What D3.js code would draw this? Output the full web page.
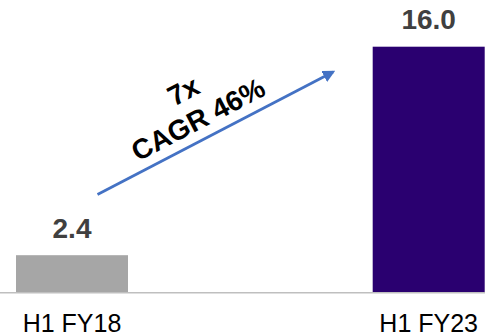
<!DOCTYPE html>
<html>
<head>
<meta charset="utf-8">
<script src="https://cdn.jsdelivr.net/npm/d3@7"></script>
<style>
  html, body { margin: 0; padding: 0; background: #fff; }
  svg { display: block; font-family: Arial, "Liberation Sans", sans-serif; }
</style>
</head>
<body>
<svg id="chart" width="485" height="335"></svg>
<script>
// Periods and revenue values
const periods = ["H1 FY18", "H1 FY23"];
const values = [2.4, 16.0];
const valueLabels = ["2.4", "16.0"];
const barColors = ["#a6a6a6", "#2a0070"];
const growthLines = ["7x", "CAGR 46%"];

const W = 485, H = 335;
const svg = d3.select("#chart");

const x = d3.scaleBand()
  .domain(periods)
  .range([16, 484.7])
  .paddingInner(0.686)
  .paddingOuter(0);

const y = d3.scaleLinear()
  .domain([0, 16])
  .range([292, 46.7]);

// Bars
svg.selectAll("rect.bar")
  .data(periods)
  .join("rect")
  .attr("class", "bar")
  .attr("x", d => x(d))
  .attr("y", (d, i) => y(values[i]))
  .attr("width", x.bandwidth())
  .attr("height", (d, i) => y(0) - y(values[i]))
  .attr("fill", (d, i) => barColors[i]);

// Baseline
svg.append("line")
  .attr("x1", 0).attr("x2", W)
  .attr("y1", y(0) + 0.8).attr("y2", y(0) + 0.8)
  .attr("stroke", "#bfbfbf")
  .attr("stroke-width", 1.6);

// Category labels
const xAxis = svg.append("g")
  .attr("transform", `translate(0,${y(0)})`)
  .call(d3.axisBottom(x).tickSize(0).tickPadding(0));
xAxis.select(".domain").remove();
xAxis.selectAll("text")
  .attr("dy", null)
  .attr("y", 39.5)
  .attr("font-size", 25)
  .attr("font-family", "Arial, 'Liberation Sans', sans-serif")
  .attr("fill", "#000");

// Value labels
svg.selectAll("text.value")
  .data(periods)
  .join("text")
  .attr("class", "value")
  .attr("x", d => x(d) + x.bandwidth() / 2)
  .attr("y", (d, i) => y(values[i]) - 17.5)
  .attr("text-anchor", "middle")
  .attr("font-size", 28)
  .attr("font-weight", "bold")
  .attr("fill", "#404040")
  .text((d, i) => valueLabels[i]);

// Growth arrow
const defs = svg.append("defs");
defs.append("marker")
  .attr("id", "arrowhead")
  .attr("viewBox", "0 0 10 10")
  .attr("refX", 8).attr("refY", 5)
  .attr("markerWidth", 4.4).attr("markerHeight", 4.4)
  .attr("markerUnits", "strokeWidth")
  .attr("orient", "auto")
  .append("path")
  .attr("d", "M0,0 L10,5 L0,10 Z")
  .attr("fill", "#4472c4");

const a0 = [97.5, 194.5], a1 = [333, 72];
svg.append("line")
  .attr("x1", a0[0]).attr("y1", a0[1])
  .attr("x2", a1[0]).attr("y2", a1[1])
  .attr("stroke", "#4472c4")
  .attr("stroke-width", 2.8)
  .attr("marker-end", "url(#arrowhead)");

const angle = Math.atan2(a1[1] - a0[1], a1[0] - a0[0]) * 180 / Math.PI;
const growth = svg.append("text")
  .attr("transform", `translate(189,102) rotate(${angle})`)
  .attr("text-anchor", "middle")
  .attr("font-size", 28)
  .attr("font-weight", "bold")
  .attr("fill", "#000");
growth.selectAll("tspan")
  .data(growthLines)
  .join("tspan")
  .attr("x", 0)
  .attr("dy", (d, i) => i === 0 ? "-0.1em" : "1.15em")
  .text(d => d);
</script>
</body>
</html>
